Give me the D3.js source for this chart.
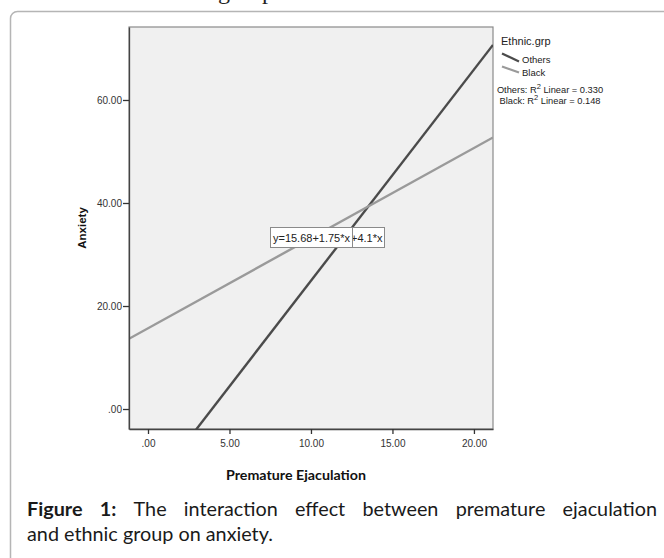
<!DOCTYPE html>
<html><head><meta charset="utf-8">
<script src="https://cdn.jsdelivr.net/npm/d3@7"></script>
<style>html,body{margin:0;padding:0;background:#fff;overflow:hidden}</style>
</head><body>
<svg id="c" width="664" height="558"></svg>
<script>
// ---- data ----
const groups = ["Others", "Black"];
const intercepts = [-16.1, 15.68];
const slopes = [4.1, 1.75];
const r2 = ["0.330", "0.148"];
const eqLabels = ["y=-16.1+4.1*x", "y=15.68+1.75*x"];
const lineColors = ["#4b4b4b", "#9a9a9a"];
const xTicks = [0, 5, 10, 15, 20];
const yTicks = [0, 20, 40, 60];
const xDomain = [-1.166, 21.17];
const yDomain = [-3.88, 74.17];

const svg = d3.select("#c");
const L = 129, R = 493, T = 27, B = 429;
const x = d3.scaleLinear().domain(xDomain).range([L, R]);
const y = d3.scaleLinear().domain(yDomain).range([B, T]);
const fmt = v => { const s = d3.format(".2f")(v); return s.startsWith("0.") ? s.slice(1) : s; };

// cut-off text above the card
svg.append("text").attr("x", 218).attr("y", -1.5)
  .attr("font-family", "Liberation Serif, serif").attr("font-size", 24).attr("fill", "#222").text("group");

// card
svg.append("rect").attr("x", 10.5).attr("y", 11.5).attr("width", 700).attr("height", 600)
  .attr("rx", 7).attr("fill", "#fff").attr("stroke", "#b5b5b5").attr("stroke-width", 1.5);

// plot frame
svg.append("rect").attr("x", L).attr("y", T).attr("width", R - L).attr("height", B - T)
  .attr("fill", "#f0f0f0").attr("stroke", "#8a8a8a").attr("stroke-width", 1.2);

svg.append("clipPath").attr("id", "clip").append("rect")
  .attr("x", L).attr("y", T).attr("width", R - L).attr("height", B - T);

// regression lines
const g = svg.append("g").attr("clip-path", "url(#clip)");
groups.forEach((name, i) => {
  const pts = xDomain.map(xv => [x(xv), y(intercepts[i] + slopes[i] * xv)]);
  g.append("path").attr("d", d3.line()(pts)).attr("fill", "none")
    .attr("stroke", lineColors[i]).attr("stroke-width", 2.4);
});

// axes
const xAxis = svg.append("g").attr("transform", `translate(0,${B})`)
  .call(d3.axisBottom(x).tickValues(xTicks).tickFormat(fmt).tickSizeInner(5).tickSizeOuter(0).tickPadding(4));
const yAxis = svg.append("g").attr("transform", `translate(${L},0)`)
  .call(d3.axisLeft(y).tickValues(yTicks).tickFormat(fmt).tickSizeInner(6).tickSizeOuter(0).tickPadding(1));
[xAxis, yAxis].forEach(a => {
  a.select(".domain").attr("stroke", "#444").attr("stroke-width", 1.3);
  a.selectAll(".tick line").attr("stroke", "#333").attr("stroke-width", 1.3);
  a.selectAll(".tick text").attr("font-family", "Liberation Sans, Arial, sans-serif")
    .attr("font-size", 10).attr("fill", "#333");
});
yAxis.selectAll(".tick text").attr("dy", "0.35em");
xAxis.selectAll(".tick text").attr("dy", "0.9em");

// axis titles
svg.append("text").attr("transform", "translate(86,228) rotate(-90)").attr("text-anchor", "middle")
  .attr("font-family", "Liberation Sans, Arial, sans-serif").attr("font-weight", "bold")
  .attr("font-size", 11.5).attr("fill", "#111").text("Anxiety");
svg.append("text").attr("x", 296).attr("y", 480).attr("text-anchor", "middle")
  .attr("font-family", "Lato, Open Sans, sans-serif").attr("font-weight", "bold")
  .attr("font-size", 12.5).attr("fill", "#111").attr("textLength", 140).attr("lengthAdjust", "spacingAndGlyphs")
  .text("Premature Ejaculation");

// equation labels (Others first, Black drawn on top)
const boxY = 227, boxH = 20;
const eqBoxes = [[300, 384], [270, 352]];
[0, 1].forEach(i => {
  const [x0, x1] = eqBoxes[i];
  svg.append("rect").attr("x", x0 + 0.5).attr("y", boxY + 0.5).attr("width", x1 - x0).attr("height", boxH)
    .attr("fill", "#fff").attr("stroke", "#8a8a8a").attr("stroke-width", 1);
  const t = svg.append("text").attr("y", boxY + 14.5)
    .attr("font-family", "Liberation Sans, Arial, sans-serif").attr("font-size", 11).attr("fill", "#222")
    .text(eqLabels[i]);
  if (i === 0) t.attr("x", x1 - 1.5).attr("text-anchor", "end");
  else t.attr("x", (x0 + x1) / 2 + 0.5).attr("text-anchor", "middle");
});

// legend
const lf = "Liberation Sans, Arial, sans-serif";
svg.append("text").attr("x", 501).attr("y", 45).attr("font-family", lf).attr("font-size", 11)
  .attr("fill", "#222").text("Ethnic.grp");
const legY = [53.5, 66.5];
groups.forEach((name, i) => {
  svg.append("line").attr("x1", 502).attr("y1", legY[i]).attr("x2", 519).attr("y2", legY[i] + (i === 0 ? 8 : 6))
    .attr("stroke", lineColors[i]).attr("stroke-width", 2.2);
  svg.append("text").attr("x", 522).attr("y", legY[i] + 9).attr("font-family", lf).attr("font-size", 9.5)
    .attr("fill", "#222").text(name);
});
const r2Y = [92.5, 103.5];
groups.forEach((name, i) => {
  const t = svg.append("text").attr("x", 550).attr("y", r2Y[i]).attr("text-anchor", "middle")
    .attr("font-family", lf).attr("font-size", 9.3).attr("fill", "#222");
  t.append("tspan").text(name + ": R");
  t.append("tspan").attr("dy", -3.5).attr("font-size", 7.5).text("2");
  t.append("tspan").attr("dy", 3.5).text(" Linear = " + r2[i]);
});

// caption
const cf = "Lato, Open Sans, sans-serif";
const capX = 27, capR = 657;
const line2 = svg.append("text").attr("x", capX).attr("y", 541).attr("font-family", cf)
  .attr("font-size", 20).attr("fill", "#1a1a1a").text("and ethnic group on anxiety.");
const w2 = line2.node().getComputedTextLength();
const fs = 20 * 246 / w2;
line2.attr("font-size", fs);
// justified first line, word by word
const words1 = [["Figure", true], ["1:", true], ["The", false], ["interaction", false], ["effect", false],
  ["between", false], ["premature", false], ["ejaculation", false]];
const cap1 = svg.append("g");
const nodes = words1.map(([w, b]) => cap1.append("text").attr("y", 516).attr("font-family", cf)
  .attr("font-size", fs).attr("font-weight", b ? "bold" : "normal").attr("fill", "#1a1a1a").text(w));
const widths = nodes.map(n => n.node().getComputedTextLength());
const gap = (capR - capX - d3.sum(widths)) / (nodes.length - 1);
let cx = capX;
nodes.forEach((n, i) => { n.attr("x", cx); cx += widths[i] + gap; });
</script>
</body></html>
